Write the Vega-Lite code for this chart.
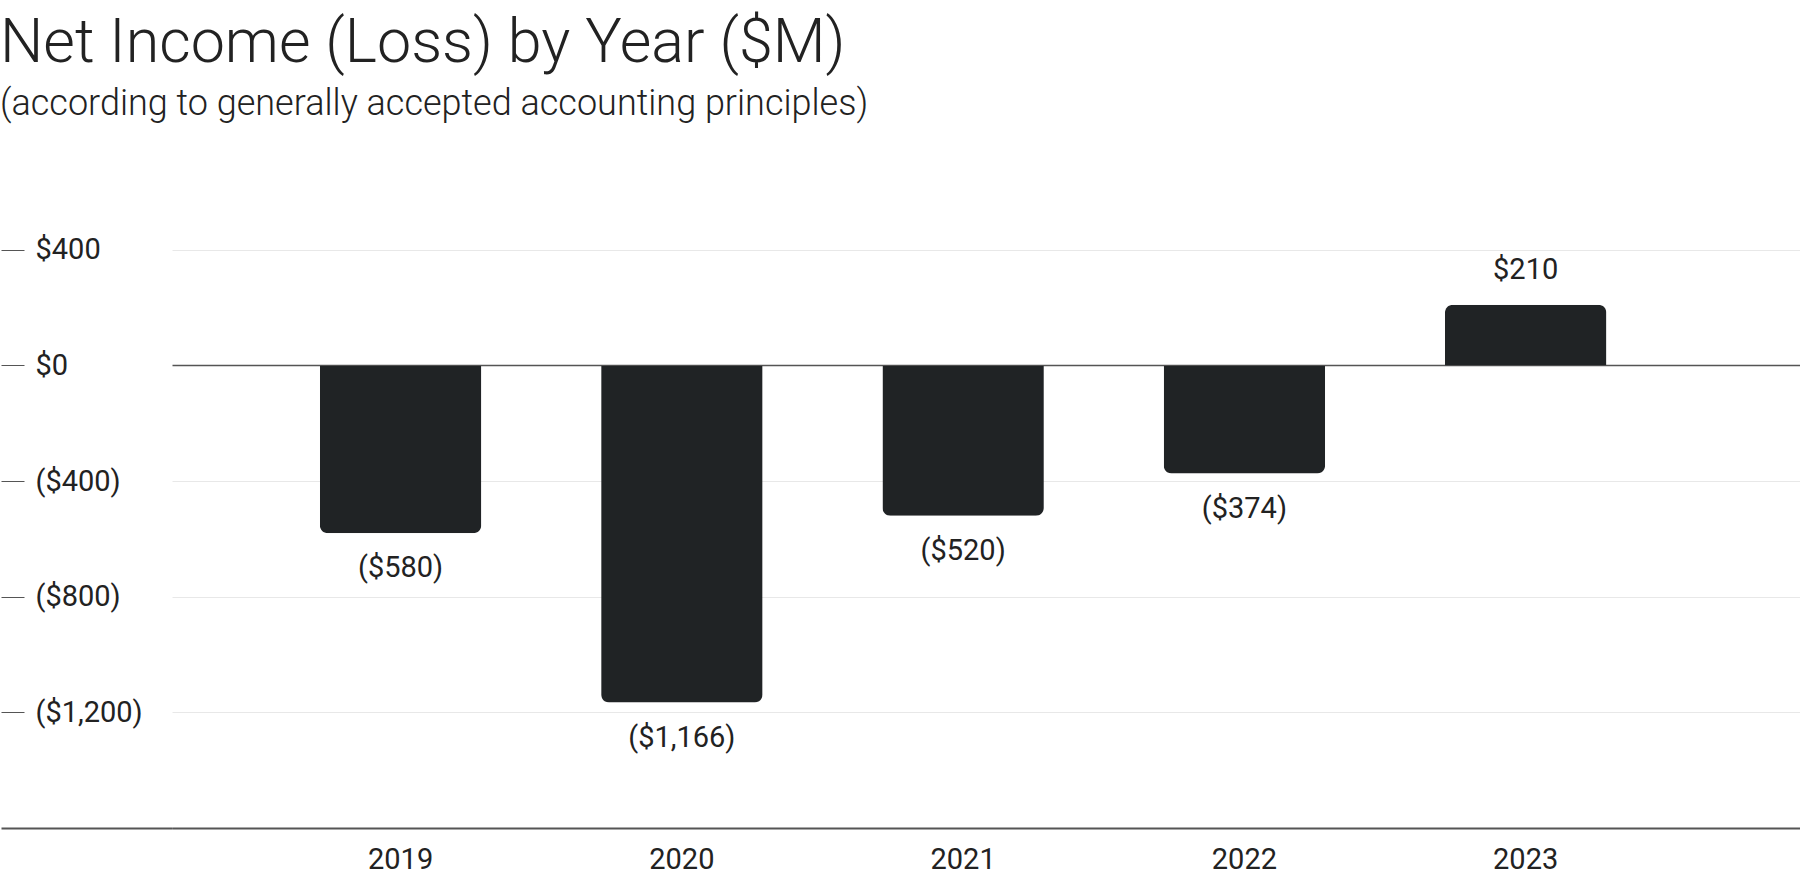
{
  "$schema": "https://vega.github.io/schema/vega-lite/v6.json",
  "autosize": {"type": "fit", "contains": "padding"},
  "width": 1800,
  "height": 877,
  "padding": {"left": 0, "right": 0, "top": 13, "bottom": 3},
  "background": "#ffffff",
  "title": {
    "text": "Net Income (Loss) by Year ($M)",
    "subtitle": "(according to generally accepted accounting principles)",
    "anchor": "start",
    "frame": "bounds",
    "font": "Roboto",
    "fontSize": 61,
    "fontWeight": 300,
    "color": "#222222",
    "subtitleFont": "Roboto",
    "subtitleFontSize": 36,
    "subtitleFontWeight": 300,
    "subtitleColor": "#222222",
    "subtitlePadding": 12,
    "offset": 69
  },
  "data": {
    "values": [
      {"year": "2019", "value": -580},
      {"year": "2020", "value": -1166},
      {"year": "2021", "value": -520},
      {"year": "2022", "value": -374},
      {"year": "2023", "value": 210}
    ]
  },
  "encoding": {
    "x": {
      "field": "year",
      "type": "ordinal",
      "scale": {"paddingInner": 0.426, "paddingOuter": 0.607, "align": 0.433},
      "axis": {
        "title": null,
        "labelAngle": 0,
        "labelFont": "Roboto",
        "labelFontSize": 29,
        "labelColor": "#222222",
        "labelPadding": 17,
        "ticks": false,
        "domainColor": "#555555",
        "domainWidth": 2,
        "grid": false
      }
    }
  },
  "layer": [
    {
      "transform": [{"filter": "datum.value < 0"}],
      "mark": {"type": "bar", "color": "#202325", "cornerRadiusBottomLeft": 8, "cornerRadiusBottomRight": 8},
      "encoding": {
        "y": {
          "field": "value",
          "type": "quantitative",
          "scale": {"domain": [-1600, 600], "nice": false, "zero": true},
          "axis": {
            "title": null,
            "orient": "left",
            "offset": 171,
            "domain": false,
            "values": [-1600, -1200, -800, -400, 0, 400],
            "format": "($,.0f",
            "labelExpr": "datum.value == -1600 ? '' : datum.label",
            "labelAlign": "left",
            "labelBaseline": "middle",
            "labelPadding": -11,
            "labelFont": "Roboto",
            "labelFontSize": 29,
            "labelColor": "#222222",
            "ticks": true,
            "tickSize": {"condition": {"test": "datum.value == -1600", "value": -171}, "value": -23},
            "tickColor": "#555555",
            "tickWidth": {"condition": {"test": "datum.value == -1600", "value": 2}, "value": 1},
            "grid": true,
            "gridColor": {"condition": {"test": "datum.value == 0 || datum.value == -1600", "value": "#555555"}, "value": "#e8e8e8"},
            "gridWidth": {"condition": {"test": "datum.value == 0", "value": 1.5}, "value": 1}
          }
        }
      }
    },
    {
      "transform": [{"filter": "datum.value >= 0"}],
      "mark": {"type": "bar", "color": "#202325", "cornerRadiusTopLeft": 8, "cornerRadiusTopRight": 8},
      "encoding": {
        "y": {"field": "value", "type": "quantitative"}
      }
    },
    {
      "transform": [{"filter": "datum.value < 0"}],
      "mark": {"type": "text", "baseline": "middle", "dy": 35, "font": "Roboto", "fontSize": 29, "color": "#222222"},
      "encoding": {
        "y": {"field": "value", "type": "quantitative"},
        "text": {"field": "value", "type": "quantitative", "format": "($,.0f"}
      }
    },
    {
      "transform": [{"filter": "datum.value >= 0"}],
      "mark": {"type": "text", "baseline": "middle", "dy": -35, "font": "Roboto", "fontSize": 29, "color": "#222222"},
      "encoding": {
        "y": {"field": "value", "type": "quantitative"},
        "text": {"field": "value", "type": "quantitative", "format": "($,.0f"}
      }
    }
  ],
  "config": {"view": {"stroke": null}}
}
